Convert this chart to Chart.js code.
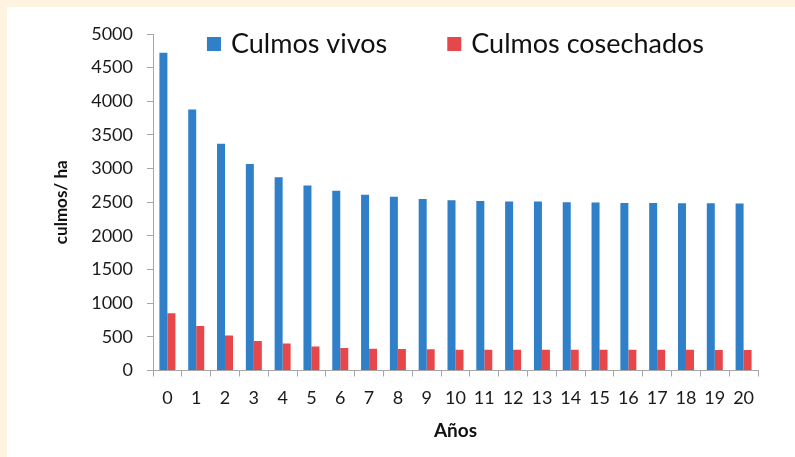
<!DOCTYPE html>
<html>
<head>
<meta charset="utf-8">
<script src="https://cdn.jsdelivr.net/npm/chart.js@4"></script>
<style>
    html, body { margin: 0; padding: 0; }
    body { width: 795px; height: 457px; background: #fdf3df; position: relative; overflow: hidden; }
    #panel { position: absolute; left: 7px; top: 7px; right: 0; bottom: 0; background: #ffffff; }
    #wrap { position: absolute; left: 0; top: 0; width: 795px; height: 457px; }
</style>
</head>
<body>
<div id="panel"></div>
<div id="wrap"><canvas id="culmosChart" width="795" height="457"></canvas></div>
<script>
const anios = ['0', '1', '2', '3', '4', '5', '6', '7', '8', '9', '10', '11', '12', '13', '14', '15', '16', '17', '18', '19', '20'];
const culmosVivos = [4720, 3880, 3370, 3070, 2870, 2750, 2670, 2610, 2580, 2550, 2530, 2520, 2510, 2510, 2500, 2495, 2490, 2490, 2485, 2485, 2480];
const culmosCosechados = [850, 660, 520, 440, 400, 355, 335, 325, 320, 315, 310, 310, 310, 310, 310, 310, 310, 310, 310, 305, 305];
const yTicks = [0, 500, 1000, 1500, 2000, 2500, 3000, 3500, 4000, 4500, 5000];

const azul = '#2f7fc9';
const rojo = '#e5474b';
const gris = '#a6a6a6';

// leyenda dibujada a mano, dentro del area del grafico
const leyenda = {
    id: 'leyenda',
    afterDatasetsDraw(chart) {
        const ctx = chart.ctx;
        const area = chart.chartArea;
        const caja = 14, hueco = 10, sep = 60;
        ctx.save();
        ctx.font = '27px Lato';
        ctx.textBaseline = 'middle';
        const items = chart.data.datasets.map(d => ({ texto: d.label, color: d.backgroundColor, w: ctx.measureText(d.label).width }));
        let total = 0;
        items.forEach((it, i) => { total += caja + hueco + it.w + (i > 0 ? sep : 0); });
        let x = (area.left + area.right) / 2 - total / 2;
        const y = area.top + 10;
        items.forEach(it => {
            ctx.fillStyle = it.color;
            ctx.fillRect(x, y - caja / 2, caja, caja);
            ctx.fillStyle = '#111';
            ctx.fillText(it.texto, x + caja + hueco, y);
            x += caja + hueco + it.w + sep;
        });
        ctx.restore();
    }
};

document.addEventListener('DOMContentLoaded', () => {
    const ctx = document.getElementById('culmosChart').getContext('2d');
    new Chart(ctx, {
        type: 'bar',
        data: {
            labels: anios,
            datasets: [{
                label: 'Culmos vivos',
                data: culmosVivos,
                backgroundColor: azul,
                categoryPercentage: 0.555,
                barPercentage: 1.0
            }, {
                label: 'Culmos cosechados',
                data: culmosCosechados,
                backgroundColor: rojo,
                categoryPercentage: 0.555,
                barPercentage: 1.0
            }]
        },
        options: {
            responsive: false,
            animation: false,
            layout: { padding: { left: 0, right: 37, top: 34, bottom: 0 } },
            plugins: {
                legend: { display: false },
                tooltip: { enabled: false }
            },
            scales: {
                x: {
                    grid: { drawOnChartArea: false, drawTicks: true, tickLength: 6, color: gris, offset: true },
                    border: { display: true, color: gris, width: 1 },
                    ticks: { color: '#1a1a1a', font: { family: 'Lato', size: 18 }, padding: 11, maxRotation: 0, autoSkip: false },
                    title: { display: true, text: 'Años', color: '#111', font: { family: 'Lato', size: 19, weight: 'bold' }, padding: { top: 0, bottom: 15 } },
                    afterFit(s) { s.height = 86.5; }
                },
                y: {
                    min: 0,
                    max: 5000,
                    afterBuildTicks(s) { s.ticks = yTicks.map(v => ({ value: v })); },
                    grid: { drawOnChartArea: false, drawTicks: true, tickLength: 6, color: gris },
                    border: { display: true, color: gris, width: 1 },
                    ticks: { color: '#1a1a1a', font: { family: 'Lato', size: 18 }, padding: 14, callback: v => String(v) },
                    title: { display: true, text: 'culmos/ ha', color: '#111', font: { family: 'Lato', size: 17, weight: 'bold' }, padding: { top: 51, bottom: 0 } },
                    afterFit(s) { s.width = 153; }
                }
            }
        },
        plugins: [leyenda]
    });
});
</script>
</body>
</html>
